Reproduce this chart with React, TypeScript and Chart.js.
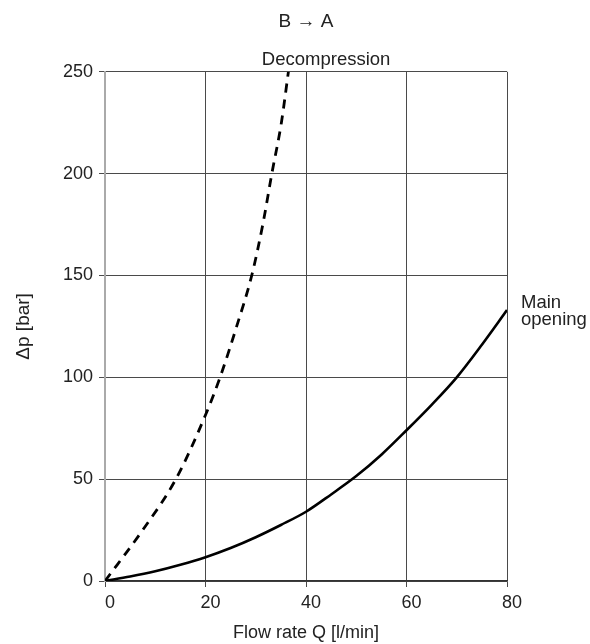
import React, { useEffect, useRef } from "react";
import { Chart, registerables } from "chart.js";

Chart.register(...registerables);

const xTicks = [0, 20, 40, 60, 80];
const yTicks = [0, 50, 100, 150, 200, 250];

const flowMain = [0, 5, 10, 15, 20, 25, 30, 35, 40, 45, 50, 55, 60, 65, 70, 75, 80];
const dpMain = [0, 2.2, 4.8, 8, 11.7, 16.2, 21.5, 27.5, 34, 42.5, 51.5, 62, 74, 86.5, 100, 116, 133];

const flowDecomp = [0, 7.5, 14.1, 20, 22.9, 26.2, 29.2, 31.4, 33.2, 35.1, 36.5];
const dpDecomp = [0, 25, 50, 81.5, 100, 125, 150, 175, 200, 225, 250];

const labelDecomp = "Decompression";
const labelMain = ["Main", "opening"];

const FONT = "'Liberation Sans', Arial, sans-serif";
const TEXT = "#222";

const annotations = {
  id: "annotations",
  afterDraw(chart: any) {
    const { ctx, chartArea, scales } = chart;
    ctx.save();
    ctx.fillStyle = TEXT;
    ctx.font = `18.5px ${FONT}`;
    ctx.textAlign = "center";
    ctx.textBaseline = "middle";
    ctx.fillText(labelDecomp, scales.x.getPixelForValue(44), chartArea.top - 12);
    ctx.textAlign = "left";
    const mx = scales.x.getPixelForValue(80) + 14;
    const my = scales.y.getPixelForValue(133);
    ctx.fillText(labelMain[0], mx, my - 7);
    ctx.fillText(labelMain[1], mx, my + 10);
    ctx.restore();
  },
};

export default function App() {
  const ref = useRef<HTMLCanvasElement>(null);
  useEffect(() => {
    if (!ref.current) return;
    const chart = new Chart(ref.current, {
      type: "scatter",
      data: {
        datasets: [
          {
            label: "Main opening",
            data: flowMain.map((x, i) => ({ x, y: dpMain[i] })),
            showLine: true,
            borderColor: "#000",
            borderWidth: 2.6,
            pointRadius: 0,
            tension: 0.4,
            cubicInterpolationMode: "monotone",
          },
          {
            label: "Decompression",
            data: flowDecomp.map((x, i) => ({ x, y: dpDecomp[i] })),
            showLine: true,
            borderColor: "#000",
            borderWidth: 2.8,
            borderDash: [9, 7],
            pointRadius: 0,
            tension: 0.4,
            cubicInterpolationMode: "monotone",
          },
        ],
      },
      options: {
        animation: false,
        responsive: true,
        maintainAspectRatio: false,
        layout: { padding: { left: 0, right: 83, top: 0, bottom: 0 } },
        plugins: {
          legend: { display: false },
          tooltip: { enabled: false },
          title: {
            display: true,
            text: "B → A",
            fullSize: false,
            color: TEXT,
            font: { family: FONT, size: 19, weight: "normal" },
            padding: { top: 10, bottom: 39 },
          },
        },
        scales: {
          x: {
            type: "linear",
            min: 0,
            max: 80,
            afterBuildTicks: (s: any) => {
              s.ticks = xTicks.map((v) => ({ value: v }));
            },
            afterFit: (s: any) => {
              s.height = 63;
            },
            grid: { color: "#4a4a4a", lineWidth: 1, tickLength: 6, drawTicks: true },
            border: { color: "#333", width: 1.5 },
            ticks: {
              color: TEXT,
              font: { family: FONT, size: 18 },
              padding: 5,
              labelOffset: 5,
              maxRotation: 0,
            },
            title: {
              display: true,
              text: "Flow rate Q [l/min]",
              color: TEXT,
              font: { family: FONT, size: 18 },
              padding: { top: 0, bottom: 0 },
            },
          },
          y: {
            type: "linear",
            min: 0,
            max: 250,
            afterBuildTicks: (s: any) => {
              s.ticks = yTicks.map((v) => ({ value: v }));
            },
            afterFit: (s: any) => {
              s.width = 105;
            },
            grid: { color: "#4a4a4a", lineWidth: 1, tickLength: 6, drawTicks: true },
            border: { color: "#aaa", width: 2 },
            ticks: {
              color: TEXT,
              font: { family: FONT, size: 18 },
              padding: 6,
            },
            title: {
              display: true,
              text: "Δp [bar]",
              color: TEXT,
              font: { family: FONT, size: 19 },
              padding: { top: 12, bottom: 0 },
            },
          },
        },
      },
      plugins: [annotations],
    });
    return () => chart.destroy();
  }, []);
  return (
    <div style={{ position: "absolute", left: 0, top: 0, width: 590, height: 644 }}>
      <canvas ref={ref} />
    </div>
  );
}
